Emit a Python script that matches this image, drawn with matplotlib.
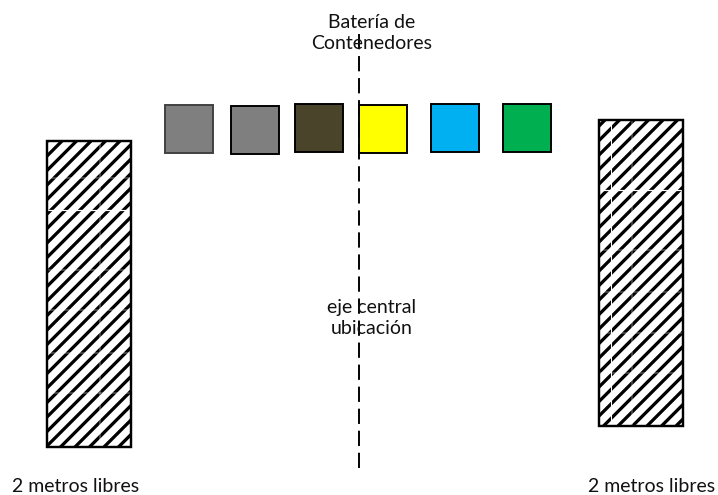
import matplotlib
matplotlib.use('Agg')
import matplotlib.pyplot as plt
from matplotlib.patches import Rectangle

# pixel positions of the sketch, top left origin
box_x = [165, 231, 295, 359, 431, 503]
box_y = [105, 106, 104, 105, 104, 104]
box_colors = ['#7f7f7f', '#7f7f7f', '#4a452a', '#ffff00', '#00b0f0', '#00b050']
box_edges = ['#404040', 'black', 'black', 'black', 'black', 'black']
box_size = 48

zone_x = [47, 599]
zone_y = [141, 120]
zone_w = 84
zone_h = 306

# white seams left in the hatching of the original
seam_h_y = [[210], [190]]
seam_h_faint = [[178, 270, 310, 353, 393], [250, 292, 333, 373]]
seam_v_x = [[], [611]]
seam_v_faint = [[100], [632]]

axis_x = 359
axis_y = [34, 468]

labels = ['Batería de\nContenedores', 'eje central\nubicación', '2 metros libres', '2 metros libres']
label_x = [372, 372, 76, 652]
label_y = [33, 318, 486, 486]

dpi = 87
plt.rcParams['font.family'] = ['Lato', 'DejaVu Sans']
plt.rcParams['hatch.linewidth'] = 2.7

fig = plt.figure(figsize=(718.01 / dpi, 495.01 / dpi), dpi=dpi)
ax = fig.add_axes([0, 0, 1, 1])
ax.set_xlim(0, 718)
ax.set_ylim(495, 0)
ax.axis('off')

for i, (x, y) in enumerate(zip(zone_x, zone_y)):
    ax.add_patch(Rectangle((x, y), zone_w, zone_h, facecolor='white', edgecolor='black', hatch='//', linewidth=0))
    for sy in seam_h_y[i]:
        ax.plot([x, x + zone_w], [sy, sy], color='white', linewidth=1.0)
    for sy in seam_h_faint[i]:
        ax.plot([x, x + zone_w], [sy, sy], color='white', linewidth=0.4)
    for sx in seam_v_x[i]:
        ax.plot([sx, sx], [y, y + zone_h], color='white', linewidth=0.9)
    for sx in seam_v_faint[i]:
        ax.plot([sx, sx], [y, y + zone_h], color='white', linewidth=0.4)
    ax.add_patch(Rectangle((x, y), zone_w, zone_h, facecolor='none', edgecolor='black', linewidth=2, zorder=3))

for x, y, c, e in zip(box_x, box_y, box_colors, box_edges):
    ax.add_patch(Rectangle((x, y), box_size, box_size, facecolor=c, edgecolor=e, linewidth=1.6, zorder=3))

ax.plot([axis_x, axis_x], axis_y, color='black', linewidth=1.6, dashes=(7.9, 3.5), zorder=5)

for t, x, y in zip(labels, label_x, label_y):
    ax.text(x, y, t, ha='center', va='center', fontsize=16.2, color='#111111', linespacing=1.32, zorder=6)

fig.savefig('out.png', dpi=dpi)
